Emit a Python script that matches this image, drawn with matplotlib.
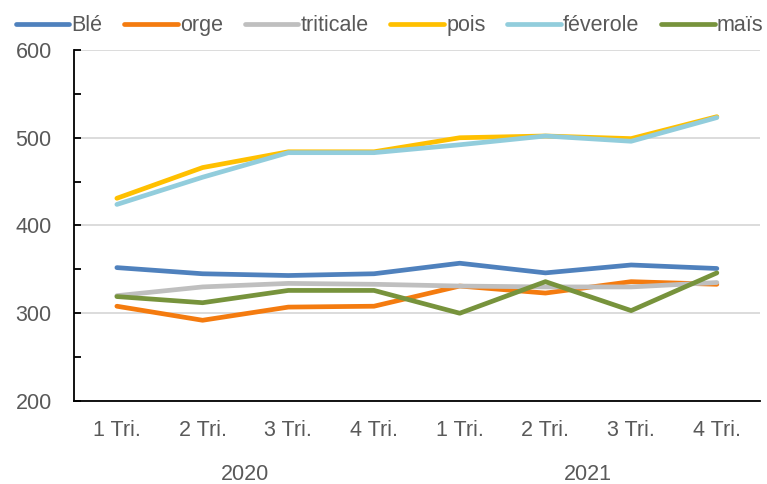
import matplotlib
matplotlib.use("Agg")
import matplotlib.pyplot as plt
from matplotlib.ticker import MultipleLocator

categories = ["1 Tri.", "2 Tri.", "3 Tri.", "4 Tri.", "1 Tri.", "2 Tri.", "3 Tri.", "4 Tri."]
years = ["2020", "2021"]
ble = [352, 345, 343, 345, 357, 346, 355, 351]
orge = [308, 292, 307, 308, 331, 323, 336, 333]
triticale = [320, 330, 334, 333, 331, 330, 330, 335]
pois = [431, 466, 484, 484, 500, 502, 499, 524]
feverole = [424, 455, 483, 483, 492, 502, 496, 523]
mais = [319, 312, 326, 326, 300, 336, 303, 346]

series = [("Blé", ble, "#4F81BD"), ("orge", orge, "#F47B0F"),
          ("triticale", triticale, "#BFBFBF"), ("pois", pois, "#FFC000"),
          ("féverole", feverole, "#92CDDC"), ("maïs", mais, "#77933C")]

plt.rcParams['font.family'] = ['Liberation Sans', 'DejaVu Sans']
txt = "#595959"
fs = 15.5

fig = plt.figure(figsize=(7.67, 4.84), dpi=100)
ax = fig.add_axes([0.0965, 0.1715, 0.894, 0.7252])
x = list(range(len(categories)))
for name, vals, col in series:
    ax.plot(x, vals, color=col, lw=3.4, label=name, solid_capstyle='round', solid_joinstyle='round')

ax.set_xlim(-0.5, len(categories) - 0.5)
ax.set_ylim(200, 600)
ax.yaxis.set_major_locator(MultipleLocator(100))
ax.yaxis.set_minor_locator(MultipleLocator(50))
ax.grid(axis='y', which='major', color='#D9D9D9', lw=1.3)
ax.set_axisbelow(True)
for s in ['top', 'right']:
    ax.spines[s].set_visible(False)
ax.spines['left'].set_color('black')
ax.spines['bottom'].set_color('black')
ax.spines['left'].set_linewidth(1.3)
ax.spines['bottom'].set_linewidth(1.3)
ax.tick_params(axis='y', which='major', direction='in', length=5, width=1.3, labelsize=fs, labelcolor=txt, pad=16)
ax.tick_params(axis='y', which='minor', direction='in', length=5, width=1.3)
ax.set_xticks(x)
ax.set_xticklabels(categories)
ax.tick_params(axis='x', length=0, labelsize=fs, labelcolor=txt, pad=14)

for i, yr in enumerate(years):
    ax.text(1.5 + 4 * i, -0.21, yr, transform=ax.get_xaxis_transform(), ha='center', va='center',
            fontsize=fs, color=txt)

leg = fig.legend(loc='center', bbox_to_anchor=(0.508, 0.947), ncol=6, frameon=False,
                 handlelength=2.5, handletextpad=0.1, columnspacing=1.0, fontsize=fs,
                 labelcolor=txt, borderaxespad=0)
for h in leg.get_lines():
    h.set_solid_capstyle('round')

fig.savefig("out.png", dpi=100)
